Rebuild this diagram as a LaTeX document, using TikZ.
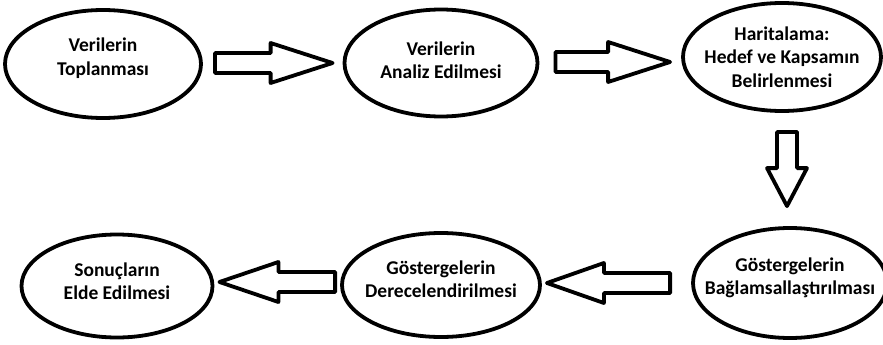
\documentclass[tikz,border=0pt]{standalone}
\usepackage{fontspec}
\setmainfont{Carlito}
\usetikzlibrary{shapes.geometric,calc}
\tikzset{
    stage/.style={ellipse,draw,line width=3.8pt,inner sep=0pt},
    caption/.style={align=center,inner sep=0pt,font=\bfseries\fontsize{19.5}{23.5}\selectfont},
    blockarrow/.style={draw,fill=white,line width=3.8pt,line join=round,to path={
        ($(\tikztostart)!10pt!90:(\tikztotarget)$)
        --($(\tikztotarget)!#1!(\tikztostart)!10pt!-90:(\tikztostart)$)
        --($(\tikztotarget)!#1!(\tikztostart)!20pt!-90:(\tikztostart)$)
        --(\tikztotarget)
        --($(\tikztotarget)!#1!(\tikztostart)!20pt!90:(\tikztostart)$)
        --($(\tikztotarget)!#1!(\tikztostart)!10pt!90:(\tikztostart)$)
        --($(\tikztostart)!10pt!-90:(\tikztotarget)$)--cycle}},
    blockarrow/.default=60pt
}
\begin{document}
\begin{tikzpicture}[x=1pt,y=-1pt]
    \useasboundingbox (0,0) rectangle (883,345);
    \node[stage,minimum width=196pt,minimum height=108pt,
        label={[caption,yshift=6pt]center:Verilerin\\Toplanması}] (toplama) at (103,64) {};
    \node[stage,minimum width=193pt,minimum height=107pt,
        label={[caption,yshift=3pt]center:Verilerin\\Analiz Edilmesi}] (analiz) at (441,63) {};
    \node[stage,minimum width=198pt,minimum height=108pt,
        label={[caption]center:Haritalama:\\Hedef ve Kapsamın\\Belirlenmesi}] (harita) at (782,57) {};
    \node[stage,minimum width=194pt,minimum height=110pt,
        label={[caption,yshift=5pt]center:Göstergelerin\\Bağlamsallaştırılması}] (baglam) at (790,283) {};
    \node[stage,minimum width=198pt,minimum height=104pt,
        label={[caption,yshift=6pt]center:Göstergelerin\\Derecelendirilmesi}] (derece) at (441,285) {};
    \node[stage,minimum width=191pt,minimum height=103pt,
        label={[caption,yshift=5pt]center:Sonuçların\\Elde Edilmesi}] (sonuc) at (117,286) {};
    \draw[blockarrow=62pt] ($(toplama.east)+(12,-1)$) to ($(analiz.west)+(-10,0)$);
    \draw[blockarrow=62pt] ($(analiz.east)+(16,-1)$) to ($(harita.west|-analiz.east)+(-11,-1)$);
    \draw[blockarrow=38pt] ($(harita.south)+(5,19)$) to ($(baglam.north)+(-3,-20)$);
    \draw[blockarrow=57pt] ($(baglam.west)+(-21,0)$) to ($(derece.east|-baglam.west)+(5,0)$);
    \draw[blockarrow=59pt] ($(derece.west)+(-5,-3)$) to ($(sonuc.east|-derece.west)+(5,-3)$);
\end{tikzpicture}
\end{document}
